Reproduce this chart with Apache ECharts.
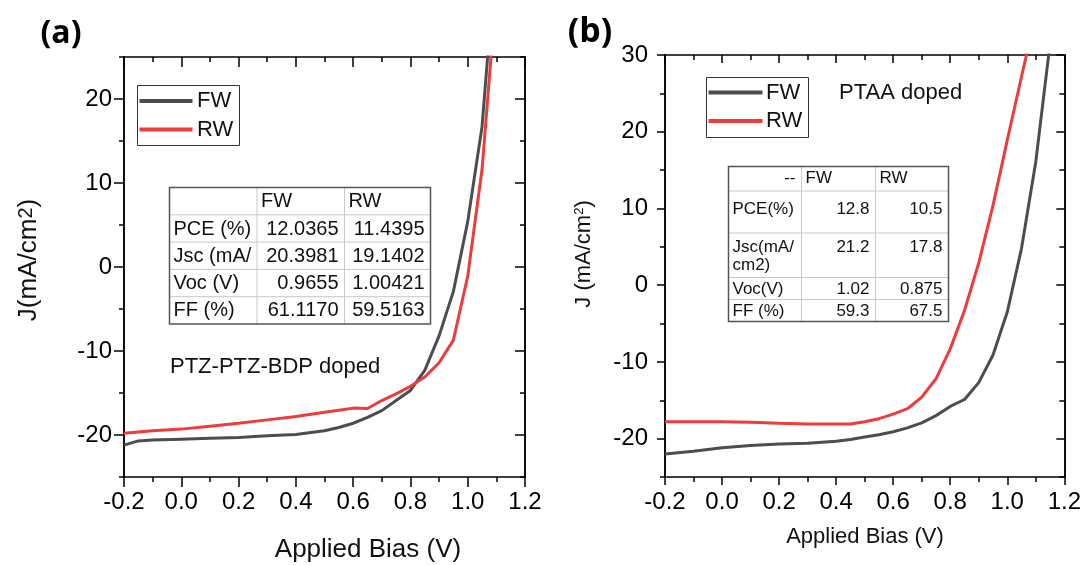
<!DOCTYPE html>
<html><head><meta charset="utf-8">
<script src="https://cdn.jsdelivr.net/npm/echarts@6/dist/echarts.min.js"></script>
<style>html,body{margin:0;padding:0;background:#fff}#c{width:1084px;height:565px}</style>
</head><body><div id="c"></div>
<script>
// ---------- data ----------
const seriesNames = ['FW', 'RW'];
const voltageA = [-0.2, -0.15, -0.1, 0, 0.1, 0.2, 0.3, 0.4, 0.5, 0.55, 0.6, 0.65, 0.7, 0.75, 0.8, 0.85, 0.9, 0.95, 1.0, 1.05, 1.1];
const fwA = [-21.2, -20.7, -20.6, -20.5, -20.4, -20.3, -20.1, -19.95, -19.5, -19.1, -18.6, -17.9, -17.1, -15.9, -14.7, -12.3, -8.2, -2.9, 5.4, 16.7, 38];
const rwA = [-19.8, -19.65, -19.5, -19.3, -18.95, -18.6, -18.2, -17.8, -17.3, -17.05, -16.8, -16.85, -15.9, -15.1, -14.2, -13.1, -11.4, -8.7, -1.1, 11.6, 33];
const voltageB = [-0.2, -0.1, 0, 0.1, 0.2, 0.3, 0.4, 0.45, 0.5, 0.55, 0.6, 0.65, 0.7, 0.75, 0.8, 0.85, 0.9, 0.95, 1.0, 1.05, 1.1, 1.15];
const fwB = [-22.0, -21.65, -21.2, -20.9, -20.7, -20.6, -20.35, -20.1, -19.8, -19.5, -19.1, -18.6, -17.95, -17.0, -15.8, -14.9, -12.7, -9.1, -3.5, 4.8, 16.1, 31.5];
const rwB = [-17.8, -17.8, -17.8, -17.85, -18.0, -18.1, -18.1, -18.1, -17.8, -17.4, -16.8, -16.1, -14.6, -12.2, -8.3, -3.3, 2.9, 10.4, 18.9, 27.2, 35.3, null];
const yMajorA = [-20, -10, 0, 10, 20];
const yMajorB = [-20, -10, 0, 10, 20, 30];
const tableAHeader = ['', 'FW', 'RW'];
const tableARows = [
  ['PCE (%)', '12.0365', '11.4395'],
  ['Jsc (mA/', '20.3981', '19.1402'],
  ['Voc (V)', '0.9655', '1.00421'],
  ['FF (%)', '61.1170', '59.5163']
];
const tableBHeader = ['--', 'FW', 'RW'];
const tableBRows = [
  ['PCE(%)', '12.8', '10.5'],
  ['Jsc(mA/\ncm2)', '21.2', '17.8'],
  ['Voc(V)', '1.02', '0.875'],
  ['FF (%)', '59.3', '67.5']
];
const panelLabels = ['(a)', '(b)'];
const sampleLabels = ['PTZ-PTZ-BDP doped', 'PTAA doped'];
const xTitle = 'Applied Bias (V)';

// ---------- style ----------
const FONT = '"Liberation Sans", Arial, sans-serif';
const GRAY = '#4d4d4d';
const RED = '#ee3b3b';
const colors = [GRAY, RED];
const AXW = 1.5;

const chart = echarts.init(document.getElementById('c'), null, {renderer: 'canvas'});

function xAxes(gi, tickLen) {
  const common = {
    gridIndex: gi, type: 'value', min: -0.2, max: 1.2, interval: 0.2,
    axisLine: {show: true, onZero: false, lineStyle: {color: '#000', width: AXW}},
    splitLine: {show: false}, minorSplitLine: {show: false}
  };
  return [
    Object.assign({}, common, {
      position: 'bottom',
      axisTick: {show: true, inside: false, length: tickLen, lineStyle: {color: '#000', width: AXW}},
      minorTick: {show: true, splitNumber: 2, length: 5, lineStyle: {color: '#000', width: AXW}},
      axisLabel: {show: true, fontSize: 24, color: '#000', fontFamily: FONT, margin: 13,
        formatter: v => (Math.abs(v) < 1e-9 ? 0 : v).toFixed(1)}
    }),
    Object.assign({}, common, {
      position: 'top',
      axisTick: {show: true, inside: true, length: tickLen, lineStyle: {color: '#000', width: AXW}},
      minorTick: {show: true, splitNumber: 2, length: 5, lineStyle: {color: '#000', width: AXW}},
      axisLabel: {show: false}
    })
  ];
}

function yAxes(gi, min, max, majors, tickLen, margin) {
  const common = {
    gridIndex: gi, type: 'value', min: min, max: max, interval: 5,
    axisLine: {show: true, onZero: false, lineStyle: {color: '#000', width: AXW}},
    splitLine: {show: false}
  };
  return [
    Object.assign({}, common, {
      position: 'left',
      axisTick: {show: true, inside: false, length: tickLen, customValues: majors, lineStyle: {color: '#000', width: AXW}},
      axisLabel: {show: true, customValues: majors, fontSize: 24, color: '#000', fontFamily: FONT, margin: margin}
    }),
    Object.assign({}, common, {
      position: 'left',
      axisTick: {show: true, inside: false, length: 5, lineStyle: {color: '#000', width: AXW}},
      axisLabel: {show: false}
    }),
    Object.assign({}, common, {
      position: 'right',
      axisTick: {show: true, inside: true, length: tickLen, customValues: majors, lineStyle: {color: '#000', width: AXW}},
      axisLabel: {show: false}
    }),
    Object.assign({}, common, {
      position: 'right',
      axisTick: {show: true, inside: true, length: 5, lineStyle: {color: '#000', width: AXW}},
      axisLabel: {show: false}
    })
  ];
}

function lineSeries(name, xi, yi, xs, ys, color) {
  return {
    name: name, type: 'line', xAxisIndex: xi, yAxisIndex: yi,
    data: xs.map((v, i) => [v, ys[i]]),
    symbol: 'none', showSymbol: false, clip: true,
    lineStyle: {color: color, width: 3}, itemStyle: {color: color},
    z: 3
  };
}

function buildTable(colX, rowY, header, rows, fontSize, textY, headAlign) {
  const els = [];
  const left = colX[0], right = colX[colX.length - 1];
  const top = rowY[0], bottom = rowY[rowY.length - 1];
  for (let i = 1; i < colX.length - 1; i++) {
    els.push({type: 'line', shape: {x1: colX[i], y1: top, x2: colX[i], y2: bottom}, style: {stroke: '#c8c8c8', lineWidth: 1}, z: 10});
  }
  for (let j = 1; j < rowY.length - 1; j++) {
    els.push({type: 'line', shape: {x1: left, y1: rowY[j], x2: right, y2: rowY[j]}, style: {stroke: '#c8c8c8', lineWidth: 1}, z: 10});
  }
  els.push({type: 'rect', shape: {x: left, y: top, width: right - left, height: bottom - top},
    style: {fill: 'none', stroke: '#555', lineWidth: 1.5}, z: 11});
  const allRows = [header].concat(rows);
  allRows.forEach((r, j) => {
    r.forEach((txt, i) => {
      if (!txt) return;
      const align = j === 0 ? headAlign[i] : (i === 0 ? 'left' : 'right');
      const x = align === 'left' ? colX[i] + 4 : colX[i + 1] - 6;
      els.push({type: 'text', x: x, y: textY[j], z: 12,
        style: {text: txt, fontSize: fontSize, fontFamily: FONT, fill: '#111',
          align: align, verticalAlign: 'top', lineHeight: fontSize + 1}});
    });
  });
  return els;
}

function legendBox(x, y, w, h, lineX1, lineX2, rowsY, textX) {
  const els = [{type: 'rect', shape: {x: x, y: y, width: w, height: h},
    style: {fill: '#fff', stroke: '#333', lineWidth: 1}, z: 10}];
  seriesNames.forEach((n, i) => {
    els.push({type: 'line', shape: {x1: lineX1, y1: rowsY[i], x2: lineX2, y2: rowsY[i]},
      style: {stroke: colors[i], lineWidth: 4}, z: 11});
    els.push({type: 'text', x: textX, y: rowsY[i], z: 11,
      style: {text: n, fontSize: 22, fontFamily: FONT, fill: '#111', align: 'left', verticalAlign: 'middle'}});
  });
  return els;
}

const graphics = [].concat(
  legendBox(137.5, 85.5, 102, 60, 139.5, 192.5, [101, 129.5], 197),
  legendBox(706.5, 77.5, 102, 60, 708.5, 762.5, [92.5, 121], 766),
  buildTable([169.5, 257, 344.5, 430.5], [187.5, 214.8, 242.1, 269.4, 296.7, 324],
    tableAHeader, tableARows, 20, [191, 218.5, 245.5, 272.5, 299.5], ['left', 'left', 'left']),
  buildTable([728.5, 801.5, 875.5, 948.5], [166.5, 191, 233, 277.5, 299.5, 321.5],
    tableBHeader, tableBRows, 17, [169, 200, 238, 280, 302], ['right', 'left', 'left']),
  [
    {type: 'text', x: 61, y: 34, style: {text: panelLabels[0], fontSize: 32, fontWeight: 'bold', fontFamily: '"Open Sans"', fill: '#000', align: 'center', verticalAlign: 'middle'}},
    {type: 'text', x: 590, y: 32, style: {text: panelLabels[1], fontSize: 34, fontWeight: 'bold', fontFamily: '"Open Sans"', fill: '#000', align: 'center', verticalAlign: 'middle'}},
    {type: 'text', x: 170, y: 367, style: {text: sampleLabels[0], fontSize: 22, fontFamily: FONT, fill: '#111', align: 'left', verticalAlign: 'middle'}},
    {type: 'text', x: 839, y: 92.5, style: {text: sampleLabels[1], fontSize: 22, fontFamily: FONT, fill: '#111', align: 'left', verticalAlign: 'middle'}},
    {type: 'text', x: 368, y: 550, style: {text: xTitle, fontSize: 26, fontFamily: FONT, fill: '#111', align: 'center', verticalAlign: 'middle'}},
    {type: 'text', x: 865, y: 537, style: {text: xTitle, fontSize: 22, fontFamily: FONT, fill: '#111', align: 'center', verticalAlign: 'middle'}},
    {type: 'text', x: 29, y: 260, rotation: Math.PI / 2,
      style: {text: 'J(mA/cm{sup|2})', fontSize: 26, fontFamily: FONT, fill: '#111', align: 'center', verticalAlign: 'middle',
        rich: {sup: {fontSize: 20, fontFamily: FONT, fill: '#111', verticalAlign: 'top', lineHeight: 20}}}},
    {type: 'text', x: 584, y: 254, rotation: Math.PI / 2,
      style: {text: 'J (mA/cm{sup|2})', fontSize: 22, fontFamily: FONT, fill: '#111', align: 'center', verticalAlign: 'middle',
        rich: {sup: {fontSize: 13, fontFamily: FONT, fill: '#111', verticalAlign: 'top', lineHeight: 13}}}}
  ]
);

const option = {
  animation: false,
  backgroundColor: '#fff',
  grid: [
    {left: 124, top: 57, width: 401, height: 420, containLabel: false},
    {left: 665, top: 55, width: 400, height: 422, containLabel: false}
  ],
  xAxis: [].concat(xAxes(0, 10), xAxes(1, 8)),
  yAxis: [].concat(yAxes(0, -25, 25, yMajorA, 10, 12), yAxes(1, -25, 30, yMajorB, 8, 17)),
  series: [
    lineSeries(seriesNames[0], 0, 0, voltageA, fwA, GRAY),
    lineSeries(seriesNames[1], 0, 0, voltageA, rwA, RED),
    lineSeries(seriesNames[0], 2, 4, voltageB, fwB, GRAY),
    lineSeries(seriesNames[1], 2, 4, voltageB, rwB, RED)
  ],
  graphic: graphics
};
chart.setOption(option);
</script>
</body></html>
